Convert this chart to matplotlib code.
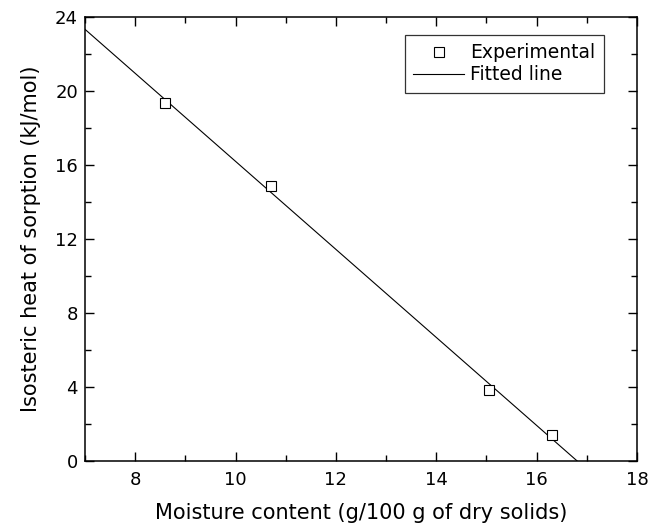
import numpy as np
import matplotlib
matplotlib.use("Agg")
import matplotlib.pyplot as plt
from matplotlib.ticker import MultipleLocator

moisture = [8.6, 10.7, 15.05, 16.3]
heat = [19.35, 14.85, 3.85, 1.4]

plt.rcParams['font.family'] = ['DejaVu Sans']

fig = plt.figure(figsize=(6.62, 5.23), dpi=100)
ax = fig.add_axes([85/662, 1 - 461/523, (637-85)/662, (461-17)/523])

slope, intercept = np.polyfit(moisture, heat, 1)
xf = np.array([7.0, 18.0])
ax.plot(xf, slope * xf + intercept, color='black', lw=0.8, label='Fitted line', zorder=2)
ax.plot(moisture, heat, linestyle='none', marker='s', markersize=7.3, markerfacecolor='white',
        markeredgecolor='black', markeredgewidth=0.8, label='Experimental', zorder=3)

ax.set_xlim(7, 18)
ax.set_ylim(0, 24)
ax.xaxis.set_major_locator(MultipleLocator(2))
ax.xaxis.set_minor_locator(MultipleLocator(1))
ax.yaxis.set_major_locator(MultipleLocator(4))
ax.yaxis.set_minor_locator(MultipleLocator(2))
ax.tick_params(which='both', direction='in', top=True, right=True, labelsize=13, width=1.0)
ax.tick_params(which='major', length=6.5, pad=5)
ax.tick_params(axis='x', which='major', pad=7)
ax.tick_params(which='minor', length=4)
for s in ax.spines.values():
    s.set_linewidth(1.1)

ax.set_xlabel('Moisture content (g/100 g of dry solids)', fontsize=15, labelpad=10)
ax.set_ylabel('Isosteric heat of sorption (kJ/mol)', fontsize=15, labelpad=10)

h, l = ax.get_legend_handles_labels()
leg = ax.legend([h[1], h[0]], [l[1], l[0]], loc='upper right',
                bbox_to_anchor=((604-85)/552, (461-35)/444), borderaxespad=0,
                fontsize=13.5, frameon=True, fancybox=False, edgecolor='black',
                handlelength=2.7, handletextpad=0.35, borderpad=0.45, labelspacing=0.15,
                markerscale=0.9)
leg.get_frame().set_linewidth(0.9)

fig.savefig('out.png', dpi=100)
